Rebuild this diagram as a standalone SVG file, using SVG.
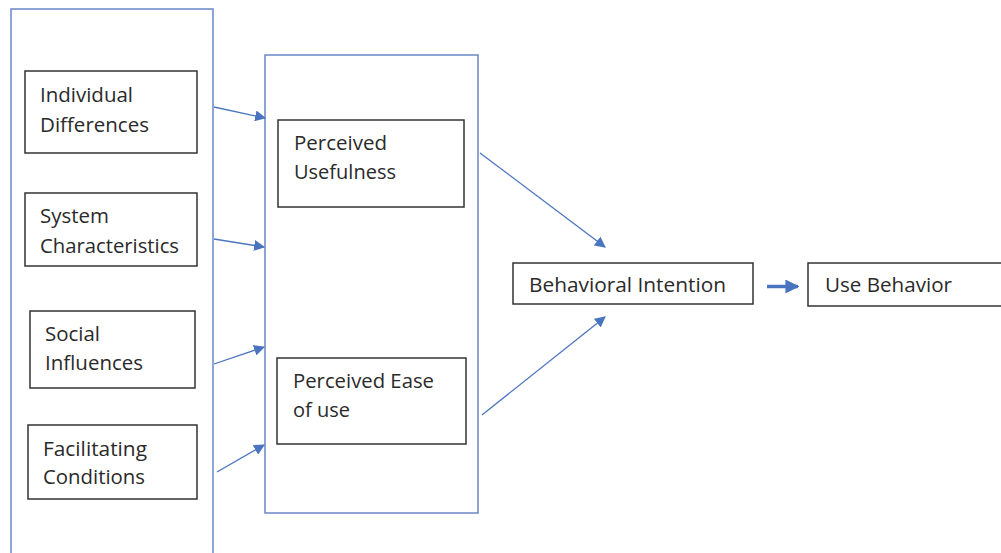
<svg xmlns="http://www.w3.org/2000/svg" width="1001" height="553" viewBox="0 0 1001 553">
<style>
.outer{fill:none;stroke:#6a86c4;stroke-width:1.5}
.box{fill:#fff;stroke:#333;stroke-width:1.5}
.t{font-family:"Open Sans","Liberation Sans",sans-serif;font-size:20px;fill:#2a2a2a}
.c{stroke:#4a74c0;stroke-width:1.3;fill:none}
</style>
<defs>
<marker id="ah" viewBox="0 0 10 10" refX="9" refY="5" markerWidth="11" markerHeight="11" markerUnits="userSpaceOnUse" orient="auto">
<path d="M0,0 L10,5 L0,10 z" fill="#4a74c0"/>
</marker>
<marker id="ah2" viewBox="0 0 10 10" refX="9" refY="5" markerWidth="4" markerHeight="4" orient="auto">
<path d="M0,0 L10,5 L0,10 z" fill="#4a74c0"/>
</marker>
</defs>
<rect width="1001" height="553" fill="#fff"/>
<g id="outer-left"><rect class="outer" x="11" y="9" width="202" height="560"/></g>
<g id="outer-middle"><rect class="outer" x="265" y="55" width="213" height="458"/></g>
<g id="individual-differences"><rect class="box" x="25" y="71" width="172" height="82"/><text class="t" x="40" y="102" textLength="93" lengthAdjust="spacingAndGlyphs">Individual</text><text class="t" x="40" y="132" textLength="109" lengthAdjust="spacingAndGlyphs">Differences</text></g>
<g id="system-characteristics"><rect class="box" x="25" y="193" width="172" height="73"/><text class="t" x="40" y="223" textLength="69" lengthAdjust="spacingAndGlyphs">System</text><text class="t" x="40" y="253" textLength="139" lengthAdjust="spacingAndGlyphs">Characteristics</text></g>
<g id="social-influences"><rect class="box" x="30" y="311" width="165" height="77"/><text class="t" x="45" y="341" textLength="55" lengthAdjust="spacingAndGlyphs">Social</text><text class="t" x="45" y="370" textLength="98" lengthAdjust="spacingAndGlyphs">Influences</text></g>
<g id="facilitating-conditions"><rect class="box" x="28" y="425" width="169" height="74"/><text class="t" x="43" y="456" textLength="104" lengthAdjust="spacingAndGlyphs">Facilitating</text><text class="t" x="43" y="484" textLength="102" lengthAdjust="spacingAndGlyphs">Conditions</text></g>
<g id="perceived-usefulness"><rect class="box" x="278" y="120" width="186" height="87"/><text class="t" x="294" y="150" textLength="93" lengthAdjust="spacingAndGlyphs">Perceived</text><text class="t" x="294" y="179" textLength="102" lengthAdjust="spacingAndGlyphs">Usefulness</text></g>
<g id="perceived-ease"><rect class="box" x="277" y="358" width="189" height="86"/><text class="t" x="293" y="388" textLength="141" lengthAdjust="spacingAndGlyphs">Perceived Ease</text><text class="t" x="293" y="417" textLength="57" lengthAdjust="spacingAndGlyphs">of use</text></g>
<g id="behavioral-intention"><rect class="box" x="513" y="263" width="240" height="41"/><text class="t" x="529" y="292" textLength="197" lengthAdjust="spacingAndGlyphs">Behavioral Intention</text></g>
<g id="use-behavior"><rect class="box" x="808" y="263" width="200" height="43"/><text class="t" x="825" y="292" textLength="127" lengthAdjust="spacingAndGlyphs">Use Behavior</text></g>
<g id="connectors">
<line class="c" x1="214" y1="107" x2="265" y2="118" marker-end="url(#ah)"/>
<line class="c" x1="214" y1="239" x2="264" y2="247" marker-end="url(#ah)"/>
<line class="c" x1="214" y1="364" x2="264" y2="347" marker-end="url(#ah)"/>
<line class="c" x1="217" y1="472" x2="264" y2="445" marker-end="url(#ah)"/>
<line class="c" x1="480" y1="153" x2="605" y2="247" marker-end="url(#ah)"/>
<line class="c" x1="482" y1="415" x2="605" y2="317" marker-end="url(#ah)"/>
<line x1="767" y1="286.5" x2="798" y2="286.5" stroke="#4a74c0" stroke-width="3.5" marker-end="url(#ah2)"/>
</g>
</svg>
